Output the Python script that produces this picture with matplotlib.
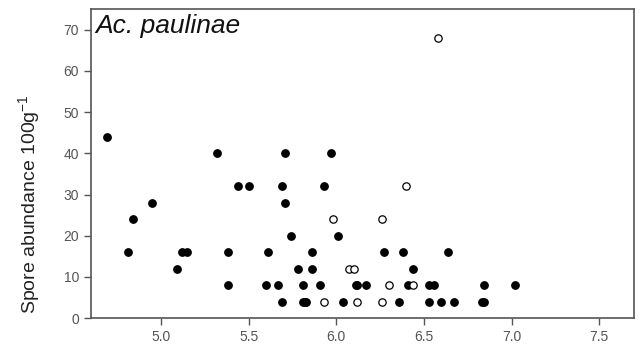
import matplotlib
matplotlib.use("Agg")
import matplotlib.pyplot as plt

# soil pH vs spore abundance, filled = one group, open = the other
ph_filled = [4.69, 4.81, 4.84, 4.95, 5.09, 5.12, 5.15, 5.32, 5.38, 5.38,
             5.44, 5.50, 5.61, 5.60, 5.67, 5.69, 5.69, 5.71, 5.71, 5.74,
             5.78, 5.81, 5.81, 5.82, 5.83, 5.86, 5.86, 5.91, 5.93, 5.97,
             6.01, 6.04, 6.11, 6.12, 6.17, 6.27, 6.36, 6.38, 6.41, 6.44,
             6.53, 6.56, 6.53, 6.60, 6.64, 6.67, 6.83, 6.84, 6.84, 7.02]
abund_filled = [44, 16, 24, 28, 12, 16, 16, 40, 16, 8,
                32, 32, 16, 8, 8, 4, 32, 28, 40, 20,
                12, 8, 4, 4, 4, 12, 16, 8, 32, 40,
                20, 4, 8, 8, 8, 16, 4, 16, 8, 12,
                8, 8, 4, 4, 16, 4, 4, 4, 8, 8]

ph_open = [5.93, 5.98, 6.07, 6.10, 6.12, 6.26, 6.26, 6.30, 6.40, 6.44, 6.58]
abund_open = [4, 24, 12, 12, 4, 4, 24, 8, 32, 8, 68]

x_ticks = [5.0, 5.5, 6.0, 6.5, 7.0, 7.5]
y_ticks = [0, 10, 20, 30, 40, 50, 60, 70]


def main():
    plt.rcParams["font.family"] = ["Liberation Sans", "DejaVu Sans"]
    fig = plt.figure(figsize=(6.4, 3.5), dpi=100)
    ax = fig.add_axes([0.142, 0.091, 0.849, 0.883])

    ax.plot(ph_filled, abund_filled, "o", ms=5.3, mfc="black", mec="black",
            ls="none")
    ax.plot(ph_open, abund_open, "o", ms=5.3, mfc="white", mec="black",
            mew=0.9, ls="none")

    ax.set_xlim(4.6, 7.7)
    ax.set_ylim(0, 75)
    ax.set_xticks(x_ticks)
    ax.set_xticklabels([f"{t:.1f}" for t in x_ticks])
    ax.set_yticks(y_ticks)

    for s in ax.spines.values():
        s.set_color("#555555")
        s.set_linewidth(1.2)
    ax.tick_params(direction="out", length=5, width=1, color="#555555",
                   labelcolor="#555555", labelsize=10)

    ax.set_ylabel("Spore abundance 100g$^{\\mathregular{-1}}$", fontsize=14,
                  color="#222222")
    ax.yaxis.set_label_coords(-0.088, 0.37)
    ax.text(0.008, 0.985, "Ac. paulinae", transform=ax.transAxes,
            fontsize=19, style="italic", va="top", ha="left", color="#111111")

    fig.savefig("out.png", dpi=100)


if __name__ == "__main__":
    main()
